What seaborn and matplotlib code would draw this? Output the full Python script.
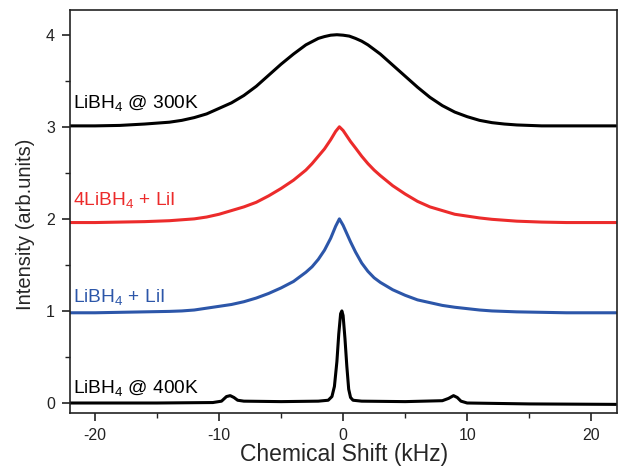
import pandas as pd
import matplotlib
matplotlib.use('Agg')
import matplotlib.pyplot as plt
import seaborn as sns

# values (x in kHz, y offset intensity)
x_300k = [-22, -20, -18, -16, -14, -13, -12, -11, -10, -9, -8, -7, -6, -5, -4, -3, -2, -1.5, -1, -0.5,
          0, 0.5, 1, 1.5, 2, 3, 4, 5, 6, 7, 8, 9, 10, 11, 12, 13, 14, 16, 18, 20, 22]
y_300k = [3.01, 3.01, 3.015, 3.03, 3.05, 3.07, 3.10, 3.14, 3.20, 3.26, 3.34, 3.44, 3.56, 3.68, 3.79, 3.89, 3.96, 3.98, 3.995, 4.0,
          3.995, 3.985, 3.96, 3.93, 3.89, 3.79, 3.67, 3.55, 3.43, 3.32, 3.23, 3.16, 3.11, 3.07, 3.045, 3.03, 3.02, 3.01, 3.01, 3.01, 3.01]

x_4lii = [-22, -20, -18, -16, -14, -13, -12, -11, -10, -9, -8, -7, -6, -5, -4, -3, -2.5, -2, -1.5, -1, -0.6, -0.3,
          0, 0.3, 0.6, 1, 1.5, 2, 2.5, 3, 4, 5, 6, 7, 8, 9, 10, 11, 12, 13, 14, 16, 18, 20, 22]
y_4lii = [1.96, 1.96, 1.965, 1.97, 1.98, 1.99, 2.00, 2.02, 2.05, 2.09, 2.13, 2.18, 2.25, 2.33, 2.42, 2.53, 2.60, 2.68, 2.76, 2.86, 2.95, 3.0,
          2.96, 2.90, 2.84, 2.77, 2.68, 2.60, 2.53, 2.47, 2.36, 2.27, 2.19, 2.13, 2.09, 2.05, 2.03, 2.01, 1.995, 1.985, 1.975, 1.965, 1.96, 1.96, 1.96]

x_lii = [-22, -20, -18, -16, -14, -13, -12, -11, -10, -9, -8, -7, -6, -5, -4, -3, -2.5, -2, -1.5, -1, -0.6, -0.3,
         0, 0.3, 0.6, 1, 1.5, 2, 2.5, 3, 4, 5, 6, 7, 8, 9, 10, 11, 12, 13, 14, 16, 18, 20, 22]
y_lii = [0.98, 0.98, 0.985, 0.99, 0.995, 1.00, 1.01, 1.03, 1.05, 1.07, 1.10, 1.14, 1.19, 1.25, 1.32, 1.42, 1.48, 1.56, 1.66, 1.79, 1.92, 2.0,
         1.93, 1.84, 1.75, 1.64, 1.52, 1.43, 1.36, 1.31, 1.23, 1.17, 1.12, 1.09, 1.06, 1.04, 1.025, 1.01, 1.0, 0.995, 0.99, 0.985, 0.98, 0.98, 0.98]

x_400k = [-22, -15, -10.5, -9.8, -9.4, -9.1, -8.8, -8.5, -8, -5, -2, -1.2, -0.9, -0.7, -0.5, -0.35, -0.2, -0.1,
          0.0, 0.15, 0.3, 0.45, 0.6, 0.8, 1.5, 5, 8, 8.5, 8.9, 9.2, 9.5, 10, 15, 22]
y_400k = [0.0, 0.0, 0.005, 0.02, 0.07, 0.08, 0.06, 0.03, 0.02, 0.015, 0.02, 0.03, 0.07, 0.18, 0.45, 0.75, 0.97, 1.0,
          0.95, 0.7, 0.4, 0.15, 0.06, 0.03, 0.02, 0.015, 0.025, 0.05, 0.08, 0.06, 0.02, 0.0, -0.01, -0.015]

labels = ['LiBH$_4$ @ 300K', '4LiBH$_4$ + LiI', 'LiBH$_4$ + LiI', 'LiBH$_4$ @ 400K']
label_y = [3.26, 2.2, 1.15, 0.16]
colors = ['black', '#ec2b2b', '#2c56a9', 'black']

sns.set_style('ticks')
plt.rcParams['font.family'] = ['Liberation Sans', 'DejaVu Sans']
plt.rcParams['mathtext.fontset'] = 'custom'
plt.rcParams['mathtext.rm'] = 'Liberation Sans'
plt.rcParams['mathtext.it'] = 'Liberation Sans'
plt.rcParams['axes.unicode_minus'] = False

fig = plt.figure(figsize=(6.21, 4.70), dpi=100)
ax = fig.add_axes([0.113, 0.121, 0.881, 0.858])

series = [(x_300k, y_300k), (x_4lii, y_4lii), (x_lii, y_lii), (x_400k, y_400k)]
for (xs, ys), c in zip(series, colors):
    df = pd.DataFrame({'shift': xs, 'intensity': ys})
    sns.lineplot(data=df, x='shift', y='intensity', color=c, lw=2.2, estimator=None, ax=ax)

for txt, ty, c in zip(labels, label_y, colors):
    ax.text(-21.8, ty, txt, color=c, fontsize=13.8, va='center', ha='left')

ax.set_xlim(-22, 22.1)
ax.set_ylim(-0.11, 4.27)
ax.set_xticks([-20, -10, 0, 10, 20])
ax.set_xticks([-15, -5, 5, 15], minor=True)
ax.set_yticks([0, 1, 2, 3, 4])
ax.set_yticks([0.5, 1.5, 2.5, 3.5], minor=True)
ax.tick_params(which='major', length=6, width=1.2, labelsize=11.5, colors='#222222', direction='out', pad=5)
ax.tick_params(which='minor', length=3.5, width=1.0, direction='out', colors='#222222')
for s in ax.spines.values():
    s.set_linewidth(1.2)
    s.set_color('#222222')
ax.set_xlabel('Chemical Shift (kHz)', fontsize=16.5, labelpad=0)
ax.set_ylabel('Intensity (arb.units)', fontsize=14.5)
ax.yaxis.set_label_coords(-0.064, 0.469)

fig.savefig('out.png', dpi=100)
